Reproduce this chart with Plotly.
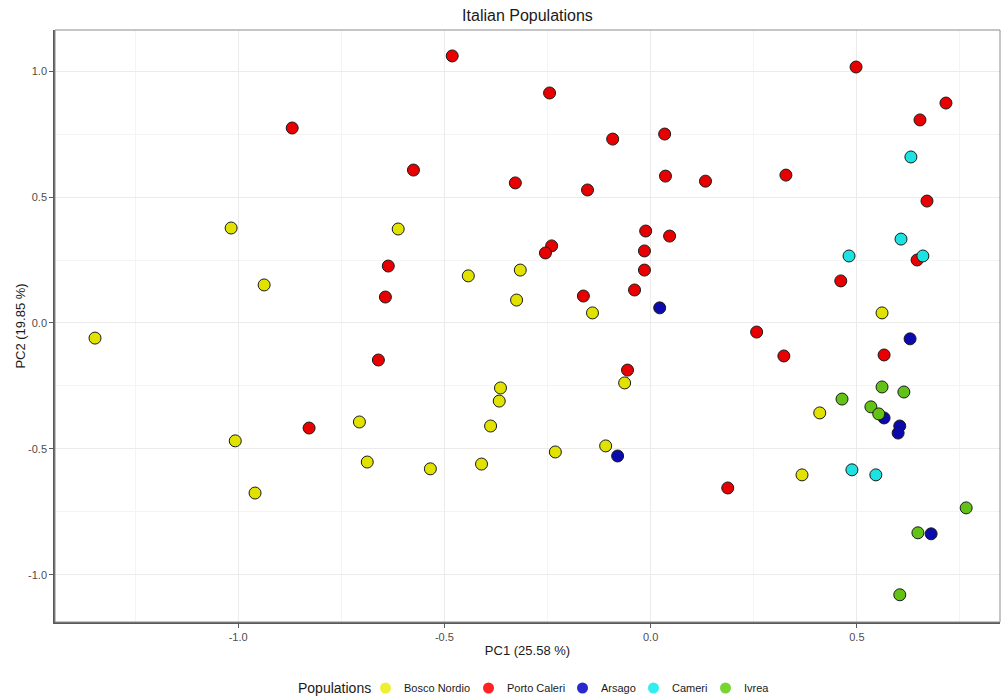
import plotly.graph_objects as go

# PCA scores per population (PC1, PC2)
bosco_x = [-1.347, -1.017, -0.937, -1.007, -0.959, -0.612, -0.706, -0.687, -0.534, -0.442,
           -0.316, -0.325, -0.364, -0.367, -0.388, -0.410, -0.231, -0.141, -0.063, -0.109,
           0.367, 0.410, 0.561]
bosco_y = [-0.060, 0.377, 0.151, -0.468, -0.675, 0.373, -0.393, -0.552, -0.579, 0.187,
           0.210, 0.091, -0.258, -0.310, -0.409, -0.560, -0.512, 0.040, -0.238, -0.488,
           -0.603, -0.357, 0.040]

porto_x = [-0.869, -0.481, -0.245, -0.575, -0.328, -0.153, -0.092, 0.034, 0.036, 0.133,
           -0.012, 0.046, -0.240, -0.255, -0.015, -0.015, -0.039, -0.163, -0.636, -0.643,
           -0.660, -0.828, -0.056, 0.187, 0.257, 0.323, 0.328, 0.461, 0.498, 0.716,
           0.653, 0.670, 0.646, 0.566]
porto_y = [0.774, 1.060, 0.913, 0.607, 0.556, 0.528, 0.730, 0.750, 0.583, 0.563,
           0.365, 0.345, 0.306, 0.278, 0.286, 0.210, 0.131, 0.107, 0.226, 0.103,
           -0.147, -0.417, -0.187, -0.655, -0.036, -0.131, 0.587, 0.167, 1.016, 0.873,
           0.806, 0.484, 0.250, -0.127]

arsago_x = [0.022, -0.080, 0.629, 0.566, 0.604, 0.600, 0.680]
arsago_y = [0.060, -0.528, -0.063, -0.377, -0.409, -0.437, -0.837]

cameri_x = [0.631, 0.607, 0.481, 0.660, 0.488, 0.546]
cameri_y = [0.659, 0.333, 0.266, 0.266, -0.583, -0.603]

ivrea_x = [0.561, 0.614, 0.464, 0.534, 0.553, 0.765, 0.648, 0.604]
ivrea_y = [-0.254, -0.274, -0.302, -0.333, -0.361, -0.734, -0.833, -1.079]

populations = ["Bosco Nordio", "Porto Caleri", "Arsago", "Cameri", "Ivrea"]
xs = [bosco_x, porto_x, arsago_x, cameri_x, ivrea_x]
ys = [bosco_y, porto_y, arsago_y, cameri_y, ivrea_y]
colors = ["#E2E200", "#E80000", "#0A0AAE", "#1CE2E2", "#62C316"]
legend_colors = ["#EEEE33", "#FF2222", "#2A2ACC", "#33EEEE", "#77D433"]

FONT = "Liberation Sans, Arial, sans-serif"

# figure geometry (pixels)
W, H = 1001, 697
ML, MR, MT, MB = 55, 1, 30, 75
PW, PH = W - ML - MR, H - MT - MB

fig = go.Figure()
for name, x, y, c in zip(populations, xs, ys, colors):
    fig.add_trace(go.Scatter(
        x=x, y=y, mode="markers", name=name, showlegend=False,
        marker=dict(size=12, color=c, line=dict(color="#1a1a1a", width=1)),
    ))

# panel border
fig.add_shape(type="rect", xref="paper", yref="paper", x0=0, y0=0, x1=1, y1=1,
              line=dict(color="#8c8c8c", width=1), layer="above")

# horizontal legend row under the panel
def px_to_paper_x(px):
    return (px - ML) / PW

legend_y = (H - MB - 688) / PH
title_w = 71                        # advance of the "Populations" title
label_widths = [68, 59, 36, 37, 24]  # rendered width of each 11px label
text_gap, dot_gap, dot_r = 19, 16, 5.5
total = title_w + sum(text_gap + dot_gap + w for w in label_widths)
cursor = ML + PW / 2 - total / 2 + 3

fig.add_annotation(x=px_to_paper_x(cursor), y=legend_y, xref="paper", yref="paper",
                   text="Populations", showarrow=False, xanchor="left", yanchor="middle",
                   font=dict(size=14, family=FONT, color="#1a1a1a"))
cursor += title_w
for name, c, w in zip(populations, legend_colors, label_widths):
    cursor += text_gap
    fig.add_shape(type="circle", xref="paper", yref="paper",
                  xsizemode="pixel", ysizemode="pixel",
                  xanchor=px_to_paper_x(cursor), yanchor=legend_y,
                  x0=-dot_r, x1=dot_r, y0=-dot_r, y1=dot_r,
                  fillcolor=c, line=dict(width=0))
    cursor += dot_gap
    fig.add_annotation(x=px_to_paper_x(cursor), y=legend_y, xref="paper", yref="paper",
                       text=name, showarrow=False, xanchor="left", yanchor="middle",
                       font=dict(size=11, family=FONT, color="#1a1a1a"))
    cursor += w

axis_common = dict(
    showgrid=True, gridcolor="#EBEBEB", gridwidth=1,
    minor=dict(showgrid=True, gridcolor="#F4F4F4", gridwidth=1),
    zeroline=False, showline=True, linecolor="#5a5a5a", linewidth=1.5,
    ticks="outside", ticklen=4, tickcolor="#5a5a5a", tickwidth=1,
    tickfont=dict(size=11, color="#4D4D4D", family=FONT),
    automargin=False,
)

fig.update_xaxes(
    range=[-1.444, 0.847], tickvals=[-1.0, -0.5, 0.0, 0.5],
    ticktext=["-1.0", "-0.5", "0.0", "0.5"],
    minor_tickvals=[-1.25, -0.75, -0.25, 0.25, 0.75],
    title=dict(text="PC1 (25.58 %)", font=dict(size=13, color="#1a1a1a", family=FONT), standoff=4),
    **axis_common,
)
fig.update_yaxes(
    range=[-1.187, 1.163], tickvals=[-1.0, -0.5, 0.0, 0.5, 1.0],
    ticktext=["-1.0", "-0.5", "0.0", "0.5", "1.0"],
    minor_tickvals=[-0.75, -0.25, 0.25, 0.75],
    title=dict(text="PC2 (19.85 %)", font=dict(size=13, color="#1a1a1a", family=FONT), standoff=0),
    **axis_common,
)

fig.update_layout(
    width=W, height=H,
    margin=dict(l=ML, r=MR, t=MT, b=MB, autoexpand=False),
    paper_bgcolor="white", plot_bgcolor="white",
    font=dict(family=FONT, color="#1a1a1a"),
    title=dict(text="Italian Populations", xref="paper", x=0.5, xanchor="center",
               y=1 - 15 / H, yanchor="middle",
               font=dict(size=16, color="#1a1a1a", family=FONT)),
    showlegend=False,
)

fig.write_html("out.html")
